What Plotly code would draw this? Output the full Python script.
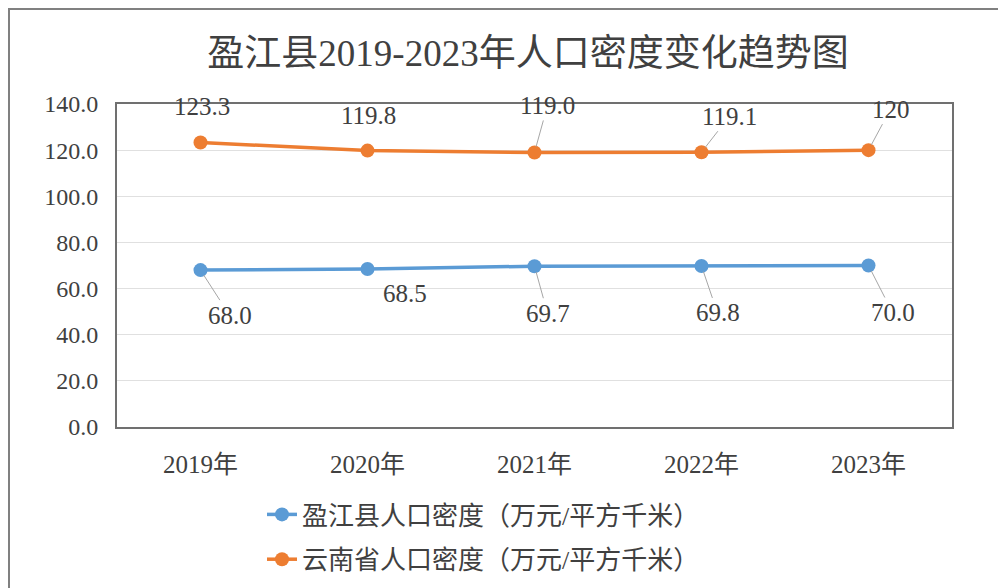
import plotly.graph_objects as go

years = ["2019年", "2020年", "2021年", "2022年", "2023年"]
yingjiang = [68.0, 68.5, 69.7, 69.8, 70.0]
yunnan = [123.3, 119.8, 119.0, 119.1, 120.0]
yingjiang_labels = ["68.0", "68.5", "69.7", "69.8", "70.0"]
yunnan_labels = ["123.3", "119.8", "119.0", "119.1", "120"]
name_yj = "盈江县人口密度（万元/平方千米）"
name_yn = "云南省人口密度（万元/平方千米）"
title = "盈江县2019-2023年人口密度变化趋势图"

BLUE = "#5B9BD5"
ORANGE = "#ED7D31"
TXT = "#404040"
FONT = "Liberation Serif, Times New Roman, Noto Sans CJK SC, serif"

# label offsets (pixels) and whether a leader line is drawn
yj_off = [(29, 45, True), (37, 25, False), (13, 47, True), (16, 47, True), (24, 47, True)]
yn_off = [(1, -36, False), (1, -35, False), (13, -47, True), (28, -36, True), (22, -41, True)]

W, H = 998, 580
L, T, R, B = 109, 96, 54, 161
PW, PH = W - L - R, H - T - B

fig = go.Figure()
fig.add_trace(go.Scatter(x=years, y=yingjiang, name=name_yj, mode="lines+markers",
                         line=dict(color=BLUE, width=3.5), marker=dict(size=14, color=BLUE),
                         legendgroup="a"))
fig.add_trace(go.Scatter(x=years, y=yunnan, name=name_yn, mode="lines+markers",
                         line=dict(color=ORANGE, width=3.5), marker=dict(size=14, color=ORANGE),
                         legendgroup="b"))

anns = []
for vals, labs, offs in ((yingjiang, yingjiang_labels, yj_off), (yunnan, yunnan_labels, yn_off)):
    for xc, v, lab, (ax, ay, arrow) in zip(years, vals, labs, offs):
        if arrow:
            anns.append(dict(x=xc, y=v, text=lab, showarrow=True, ax=ax, ay=ay,
                             arrowhead=0, arrowwidth=1, arrowcolor="#a6a6a6", standoff=6,
                             font=dict(family=FONT, size=25, color=TXT)))
        else:
            anns.append(dict(x=xc, y=v, text=lab, showarrow=False, xshift=ax, yshift=-ay,
                             font=dict(family=FONT, size=25, color=TXT)))

fig.update_layout(
    width=W, height=H,
    margin=dict(l=L, r=R, t=T, b=B, autoexpand=False),
    paper_bgcolor="white", plot_bgcolor="white",
    title=dict(text=title, x=520 / W, xanchor="center", y=1 - 45 / H, yanchor="middle",
               font=dict(family=FONT, size=37, color=TXT)),
    xaxis=dict(range=[-0.5, 4.5], showgrid=False, showline=True, linecolor="#707070", linewidth=2,
               mirror=True, ticks="", tickfont=dict(family=FONT, size=25, color=TXT), ticklabelstandoff=14),
    yaxis=dict(range=[0, 140], dtick=20, tickformat=".1f", showgrid=True, gridcolor="#e0e0e0", gridwidth=1,
               showline=True, linecolor="#707070", linewidth=2, mirror=True, ticks="",
               zeroline=False, tickfont=dict(family=FONT, size=24, color=TXT), ticklabelstandoff=12),
    legend=dict(orientation="v", x=145 / PW, xanchor="left", y=-64 / PH, yanchor="top",
                font=dict(family=FONT, size=26, color=TXT), traceorder="grouped",
                tracegroupgap=8, itemwidth=30, bgcolor="rgba(0,0,0,0)"),
    annotations=anns,
    showlegend=True,
)
fig.add_shape(type="rect", xref="paper", yref="paper",
              x0=(1 - L) / PW, x1=1.3, y0=-0.8, y1=1 + (T - 1) / PH,
              line=dict(color="#808080", width=2), fillcolor="rgba(0,0,0,0)", layer="below")
fig.write_html("out.html")
